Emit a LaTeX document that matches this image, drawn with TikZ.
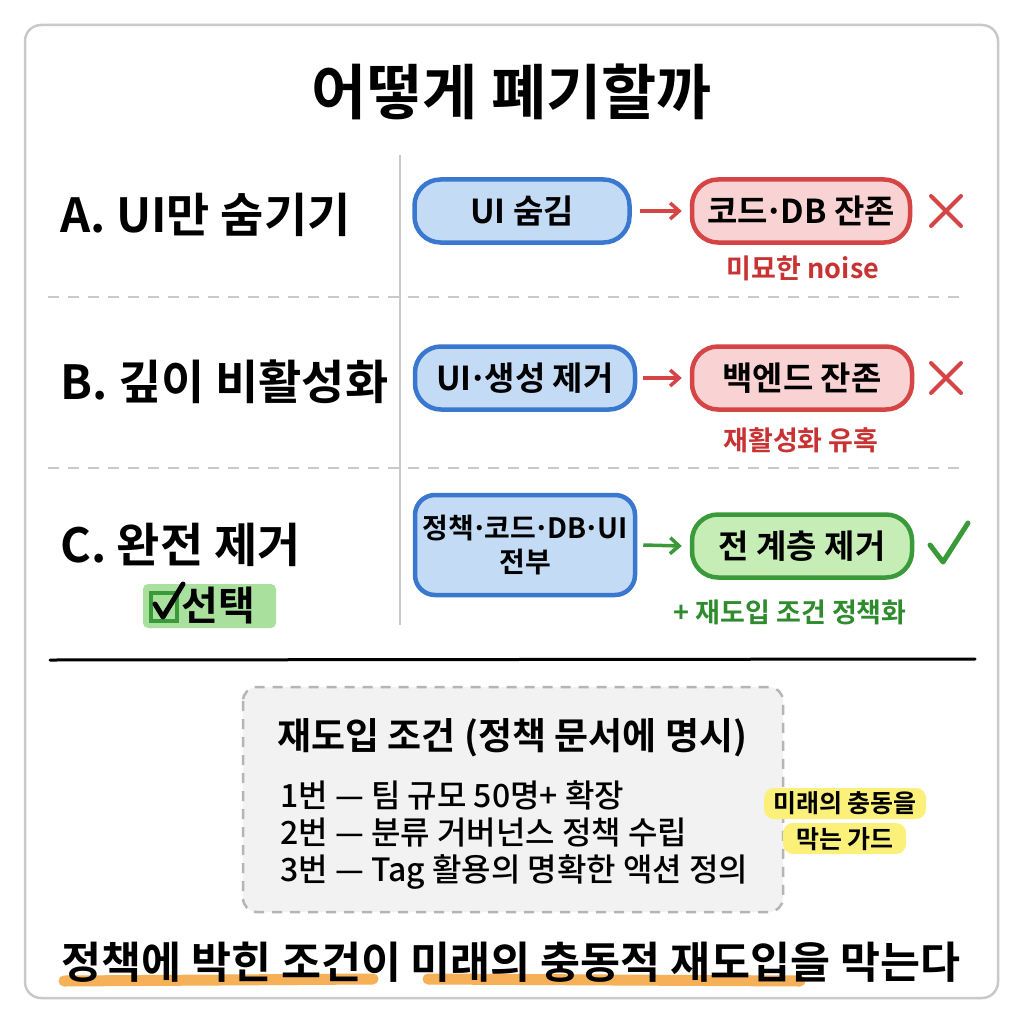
\documentclass[tikz,border=0pt]{standalone}
\usepackage{fontspec}
\setmainfont{Noto Sans CJK KR}[UprightFont=* Medium, BoldFont=* Bold]
\usetikzlibrary{arrows.meta,calc}
\definecolor{bdr}{HTML}{3A78D0}
\definecolor{bfl}{HTML}{C4DBF5}
\definecolor{rdr}{HTML}{D64545}
\definecolor{rfl}{HTML}{F9D3D3}
\definecolor{gdr}{HTML}{3A9A3A}
\definecolor{gfl}{HTML}{C6EDB6}
\definecolor{rtx}{HTML}{C83232}
\definecolor{gtx}{HTML}{2E8B2E}
\definecolor{lgr}{HTML}{C9C9C9}
\definecolor{org}{HTML}{F6B057}
\definecolor{ylw}{HTML}{FBF07A}
\definecolor{chk}{HTML}{A9E09E}
\newcommand{\fsz}[1]{\fontsize{#1pt}{1.2\dimexpr #1pt\relax}\selectfont}
\newcommand{\md}{\kern-0.1em·\kern-0.1em}
\tikzset{
  pill/.style={line width=4.5pt, rounded corners=26pt, minimum height=63pt, align=center, font=\bfseries\fsz{33}, inner sep=0pt},
  bluebox/.style={pill, draw=bdr, fill=bfl},
  redbox/.style={pill, draw=rdr, fill=rfl},
  greenbox/.style={pill, draw=gdr, fill=gfl},
  rowlabel/.style={anchor=west, font=\bfseries\fsz{47}, inner sep=0pt},
  note/.style={font=\bfseries\fsz{27}, inner sep=0pt},
  sep/.style={draw=lgr, line width=2.5pt, dash pattern=on 11pt off 9pt},
  arr/.style={line width=3.5pt, -{Straight Barb[length=9pt,width=16pt,line width=3.5pt]}},
  listline/.style={anchor=west, font=\fsz{32}, inner sep=0pt},
}
\begin{document}
\begin{tikzpicture}[x=1pt,y=-1pt]
\useasboundingbox (0,0) rectangle (1024,1024);
\fill[white] (0,0) rectangle (1024,1024);
\draw[lgr, line width=2.5pt, fill=white, rounded corners=16pt] (25,25) rectangle (998,998);

\node[font=\bfseries\fsz{60}, inner sep=0pt] (title) at (512,92) {어떻게 폐기할까};

\draw[lgr, line width=2pt] (400,155) -- (400,625);
\draw[sep] (48,297) -- (962,297);
\draw[sep] (48,468) -- (962,468);

% Row A
\node[rowlabel] (la) at (60,215) {A. UI만 숨기기};
\node[bluebox, minimum width=215pt] (a1) at (522,211) {UI 숨김};
\node[redbox, minimum width=218pt] (a2) at (801,211) {코드\md DB 잔존};
\node[note, text=rtx] (na) at (803,268) {미묘한 noise};
\coordinate (xa) at (946,211);
\draw[rdr, line width=4pt, line cap=round] ($(xa)+(-15,-15)$) -- ($(xa)+(15,15)$) ($(xa)+(15,-15)$) -- ($(xa)+(-15,15)$);

% Row B
\node[rowlabel] (lb) at (60,382) {B. 깊이 비활성화};
\node[bluebox, minimum width=220pt] (b1) at (525,378) {UI\md 생성 제거};
\node[redbox, minimum width=220pt] (b2) at (802,378) {백엔드 잔존};
\node[note, text=rtx] (nb) at (801,440) {재활성화 유혹};
\coordinate (xb) at (946,378);
\draw[rdr, line width=4pt, line cap=round] ($(xb)+(-15,-15)$) -- ($(xb)+(15,15)$) ($(xb)+(15,-15)$) -- ($(xb)+(-15,15)$);

% Row C
\node[rowlabel] (lc) at (60,545) {C. 완전 제거};
\node[bluebox, minimum width=220pt, minimum height=100pt, rounded corners=20pt, font=\bfseries\fsz{28}] (c1) at (525,545) {정책\md 코드\md DB\md UI\\전부};
\node[greenbox, minimum width=220pt] (c2) at (802,546) {전 계층 제거};
\node[note, text=gtx] (nc) at (790,612) {+ 재도입 조건 정책화};
\coordinate (xc) at (948,545);
\draw[gdr, line width=5pt, line cap=round, line join=round] ($(xc)+(-18,0)$) -- ($(xc)+(-5,17)$) -- ($(xc)+(20,-22)$);

% selected badge
\fill[chk, rounded corners=5pt] (143,584) rectangle (276,628);
\draw[gdr, line width=3.5pt] (151,593) rectangle (177,621);
\draw[black, line width=5pt, line cap=round, line join=round] (155,604) -- (163,617) -- (183,584);
\node[anchor=west, font=\bfseries\fsz{40}, inner sep=0pt] (sel) at (181,606) {선택};

% arrows
\draw[arr, rdr] ($(a1.east)+(8,0)$) -- ($(a2.west)+(-8,0)$);
\draw[arr, rdr] ($(b1.east)+(6,0)$) -- ($(b2.west)+(-8,0)$);
\draw[arr, gdr] ($(c1.east)+(6,0)$) -- ($(c2.west)+(-8,0)$);

% divider
\draw[black, line width=3pt, line cap=round] (50,660) -- (975,659);

% condition box
\draw[lgr!90!black, line width=2.5pt, fill=black!5, rounded corners=14pt, dash pattern=on 10pt off 8pt] (243,687) rectangle (783,912);
\node[anchor=west, font=\bfseries\fsz{37}, inner sep=0pt] (ct) at (277,738) {재도입 조건 (정책 문서에 명시)};
\node[listline] (l1) at (280,795) {1번 — 팀 규모 50명+ 확장};
\node[listline] (l2) at (280,833) {2번 — 분류 거버넌스 정책 수립};
\node[listline] (l3) at (280,872) {3번 — Tag 활용의 명확한 액션 정의};

\fill[ylw, rounded corners=10pt] (764,788) rectangle (926,819);
\fill[ylw, rounded corners=10pt] (783,823) rectangle (906,854);
\node[font=\bfseries\fsz{25}, inner sep=0pt] (g1) at (845,803) {미래의 충동을};
\node[font=\bfseries\fsz{25}, inner sep=0pt] (g2) at (845,839) {막는 가드};

% bottom line
\draw[org, line width=11pt, line cap=round] (64,981) -- (373,979);
\draw[org, line width=11pt, line cap=round] (428,979) -- (800,981);
\node[font=\bfseries\fsz{43.5}, inner sep=0pt] (bot) at (511,962) {정책에 박힌 조건이 미래의 충동적 재도입을 막는다};
\end{tikzpicture}
\end{document}
